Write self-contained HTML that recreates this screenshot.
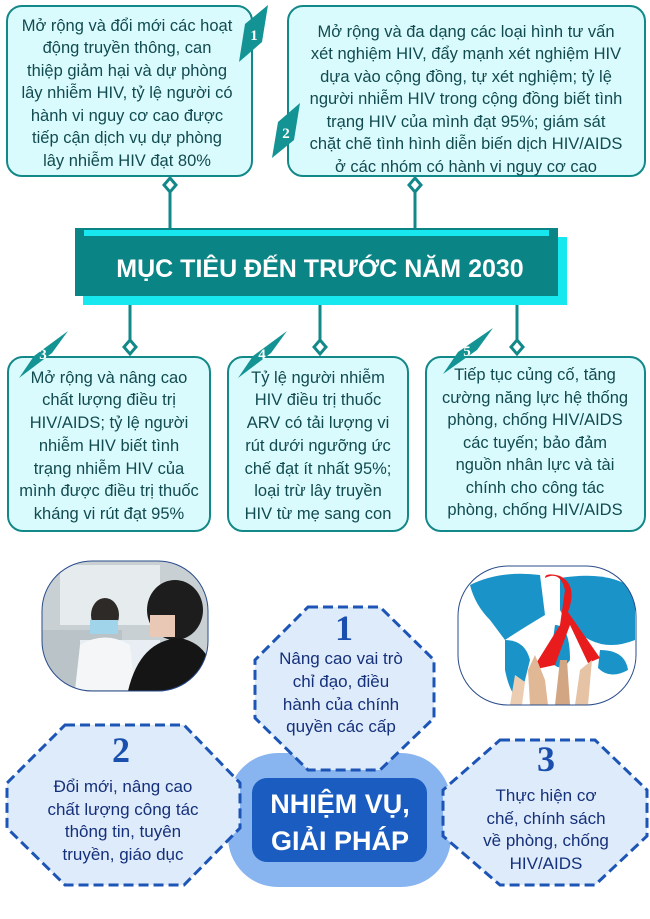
<!DOCTYPE html>
<html><head><meta charset="utf-8"><style>
html,body{margin:0;padding:0;background:#fff;}
svg{display:block;}
.t{font-family:"Liberation Sans",sans-serif;font-size:16.5px;fill:#114b50;text-anchor:middle;}
.b{font-family:"Liberation Sans",sans-serif;font-size:17px;fill:#15307a;text-anchor:middle;}
.n{font-family:"Liberation Serif",serif;font-weight:bold;fill:#1a4fae;text-anchor:middle;}
.tag{font-family:"Liberation Serif",serif;font-weight:bold;font-size:15px;fill:#fff;text-anchor:middle;}
</style></head><body>
<svg width="650" height="919" viewBox="0 0 650 919" xmlns="http://www.w3.org/2000/svg">
<defs>
<clipPath id="cp1"><rect x="42" y="561" width="166" height="130" rx="50"/></clipPath>
<clipPath id="cp2"><rect x="458" y="566" width="178" height="139" rx="50"/></clipPath>
</defs>
<g stroke="#138888" stroke-width="3" fill="#fff">
<line x1="170" y1="185" x2="170" y2="232"/>
<line x1="415" y1="185" x2="415" y2="232"/>
<line x1="130" y1="300" x2="130" y2="345"/>
<line x1="320" y1="300" x2="320" y2="345"/>
<line x1="517" y1="300" x2="517" y2="345"/>
<polygon points="170,178 176,185 170,192 164,185"/>
<polygon points="415,178 421,185 415,192 409,185"/>
<polygon points="130,340 136,347 130,354 124,347"/>
<polygon points="320,340 326,347 320,354 314,347"/>
<polygon points="517,340 523,347 517,354 511,347"/>
</g>
<rect x="7" y="6" width="245" height="170" rx="15" fill="#dafbfd" stroke="#138888" stroke-width="2"/>
<text class="t"><tspan x="127" y="31">Mở rộng và đổi mới các hoạt</tspan><tspan x="127" y="53">động truyền thông, can</tspan><tspan x="127" y="76">thiệp giảm hại và dự phòng</tspan><tspan x="127" y="98">lây nhiễm HIV, tỷ lệ người có</tspan><tspan x="127" y="121">hành vi nguy cơ cao được</tspan><tspan x="127" y="143">tiếp cận dịch vụ dự phòng</tspan><tspan x="127" y="166">lây nhiễm HIV đạt 80%</tspan></text>
<polygon points="268,5 262,42 239,62 245,24" fill="#139393"/>
<text class="tag" x="254" y="40">1</text>
<rect x="288" y="6" width="357" height="170" rx="15" fill="#dafbfd" stroke="#138888" stroke-width="2"/>
<text class="t"><tspan x="466" y="37">Mở rộng và đa dạng các loại hình tư vấn</tspan><tspan x="466" y="59">xét nghiệm HIV, đẩy mạnh xét nghiệm HIV</tspan><tspan x="466" y="82">dựa vào cộng đồng, tự xét nghiệm; tỷ lệ</tspan><tspan x="466" y="104">người nhiễm HIV trong cộng đồng biết tình</tspan><tspan x="466" y="127">trạng HIV của mình đạt 95%; giám sát</tspan><tspan x="466" y="149">chặt chẽ tình hình diễn biến dịch HIV/AIDS</tspan><tspan x="466" y="172">ở các nhóm có hành vi nguy cơ cao</tspan></text>
<polygon points="300,103 294,140 272,158 278,122" fill="#139393"/>
<text class="tag" x="286" y="138">2</text>
<rect x="83" y="237" width="484" height="68" fill="#17e8f0"/>
<rect x="75" y="228" width="483" height="68" fill="#0b8486"/>
<rect x="84" y="230" width="465" height="6" fill="#17e8f0"/>
<text x="320" y="277" font-family="Liberation Sans,sans-serif" font-weight="bold" font-size="25" fill="#fff" text-anchor="middle">MỤC TIÊU ĐẾN TRƯỚC NĂM 2030</text>
<rect x="8" y="357" width="202" height="174" rx="15" fill="#dafbfd" stroke="#138888" stroke-width="2"/>
<text class="t"><tspan x="109" y="383">Mở rộng và nâng cao</tspan><tspan x="109" y="405">chất lượng điều trị</tspan><tspan x="109" y="428">HIV/AIDS; tỷ lệ người</tspan><tspan x="109" y="451">nhiễm HIV biết tình</tspan><tspan x="109" y="474">trạng nhiễm HIV của</tspan><tspan x="109" y="496">mình được điều trị thuốc</tspan><tspan x="109" y="519">kháng vi rút đạt 95%</tspan></text>
<polygon points="68,331 52,353 19,378 34,356" fill="#139393"/>
<text class="tag" x="43" y="359">3</text>
<rect x="228" y="357" width="180" height="174" rx="15" fill="#dafbfd" stroke="#138888" stroke-width="2"/>
<text class="t"><tspan x="318" y="383">Tỷ lệ người nhiễm</tspan><tspan x="318" y="405">HIV điều trị thuốc</tspan><tspan x="318" y="428">ARV có tải lượng vi</tspan><tspan x="318" y="451">rút dưới ngưỡng ức</tspan><tspan x="318" y="474">chế đạt ít nhất 95%;</tspan><tspan x="318" y="496">loại trừ lây truyền</tspan><tspan x="318" y="519">HIV từ mẹ sang con</tspan></text>
<polygon points="287,331 271,353 238,378 253,356" fill="#139393"/>
<text class="tag" x="262" y="359">4</text>
<rect x="426" y="357" width="219" height="174" rx="15" fill="#dafbfd" stroke="#138888" stroke-width="2"/>
<text class="t"><tspan x="535" y="380">Tiếp tục củng cố, tăng</tspan><tspan x="535" y="403">cường năng lực hệ thống</tspan><tspan x="535" y="425">phòng, chống HIV/AIDS</tspan><tspan x="535" y="448">các tuyến; bảo đảm</tspan><tspan x="535" y="470">nguồn nhân lực và tài</tspan><tspan x="535" y="493">chính cho công tác</tspan><tspan x="535" y="515">phòng, chống HIV/AIDS</tspan></text>
<polygon points="493,328 477,350 443,374 458,352" fill="#139393"/>
<text class="tag" x="467" y="356">5</text>
<g clip-path="url(#cp1)">
<rect x="42" y="561" width="166" height="130" fill="#c9d0d4"/>
<rect x="60" y="565" width="100" height="60" fill="#e6ecee"/>
<rect x="42" y="630" width="80" height="60" fill="#b9c3c8"/>
<rect x="80" y="640" width="80" height="50" fill="#e8eef4"/>
<ellipse cx="105" cy="615" rx="14" ry="17" fill="#2d2a28"/>
<rect x="90" y="620" width="28" height="14" fill="#9fd4ea"/>
<path d="M75 690 L80 645 Q105 630 130 645 L135 690 Z" fill="#f4f6f8"/>
<ellipse cx="175" cy="610" rx="28" ry="30" fill="#1e1d1d"/>
<path d="M128 691 Q140 640 180 638 Q215 645 215 691 Z" fill="#151515"/>
<rect x="150" y="615" width="25" height="22" fill="#e9c8b5"/>
</g>
<rect x="42" y="561" width="166" height="130" rx="50" fill="none" stroke="#2a4c8a" stroke-width="1"/>
<g clip-path="url(#cp2)">
<rect x="458" y="566" width="178" height="139" fill="#fff"/>
<path d="M470 585 Q500 570 540 575 L545 615 Q520 630 505 640 L490 620 Q475 605 470 585Z" fill="#1a93c9"/>
<path d="M505 640 Q525 640 530 660 L520 700 Q510 695 505 670Z" fill="#1a93c9"/>
<path d="M560 578 Q610 570 635 590 L635 640 Q610 650 590 640 Q570 630 560 610Z" fill="#1a93c9"/>
<path d="M600 650 Q625 650 628 670 Q610 680 598 668Z" fill="#1a93c9"/>
<path d="M555 625 Q570 625 570 660 Q560 675 550 660Z" fill="#1a93c9"/>
<path d="M545 578 Q560 570 565 590 L560 625 L532 670 L555 665 L570 625 L588 663 L600 658 L568 612 Q578 585 560 576 Q545 572 545 578Z" fill="#e81c1c"/>
<path d="M530 705 L528 670 L535 655 L545 680 L548 705Z" fill="#e0b896"/>
<path d="M555 705 L560 660 L567 660 L570 705Z" fill="#d3a683"/>
<path d="M575 705 L580 670 L592 660 L588 705Z" fill="#e6c3a5"/>
<path d="M510 705 L515 675 L525 682 L522 705Z" fill="#edcdb2"/>
</g>
<rect x="458" y="566" width="178" height="139" rx="50" fill="none" stroke="#2a4c8a" stroke-width="1"/>
<rect x="228" y="753" width="223" height="134" rx="50" fill="#88b4f0"/>
<g fill="#deebfb" stroke="#1c55b5" stroke-width="3" stroke-dasharray="10,5">
<polygon points="308,607 380,607 434,660 434,718 380,770 308,770 255,718 255,660"/>
<polygon points="65,725 184,725 240,783 240,828 184,885 65,885 7,828 7,783"/>
<polygon points="500,740 595,740 647,790 647,836 595,885 500,885 443,836 443,790"/>
</g>
<rect x="252" y="778" width="175" height="84" rx="15" fill="#1a5cc0"/>
<text x="340" y="813" font-family="Liberation Sans,sans-serif" font-weight="bold" font-size="27" fill="#fff" text-anchor="middle">NHIỆM VỤ,</text>
<text x="340" y="850" font-family="Liberation Sans,sans-serif" font-weight="bold" font-size="27" fill="#fff" text-anchor="middle">GIẢI PHÁP</text>
<text class="n" x="344" y="640" font-size="36">1</text>
<text class="b"><tspan x="341" y="664">Nâng cao vai trò</tspan><tspan x="341" y="687">chỉ đạo, điều</tspan><tspan x="341" y="710">hành của chính</tspan><tspan x="341" y="732">quyền các cấp</tspan></text>
<text class="n" x="121" y="762" font-size="36">2</text>
<text class="b"><tspan x="123" y="792">Đổi mới, nâng cao</tspan><tspan x="123" y="815">chất lượng công tác</tspan><tspan x="123" y="837">thông tin, tuyên</tspan><tspan x="123" y="860">truyền, giáo dục</tspan></text>
<text class="n" x="546" y="771" font-size="36">3</text>
<text class="b"><tspan x="546" y="801">Thực hiện cơ</tspan><tspan x="546" y="824">chế, chính sách</tspan><tspan x="546" y="846">về phòng, chống</tspan><tspan x="546" y="869">HIV/AIDS</tspan></text>
</svg>
</body></html>
